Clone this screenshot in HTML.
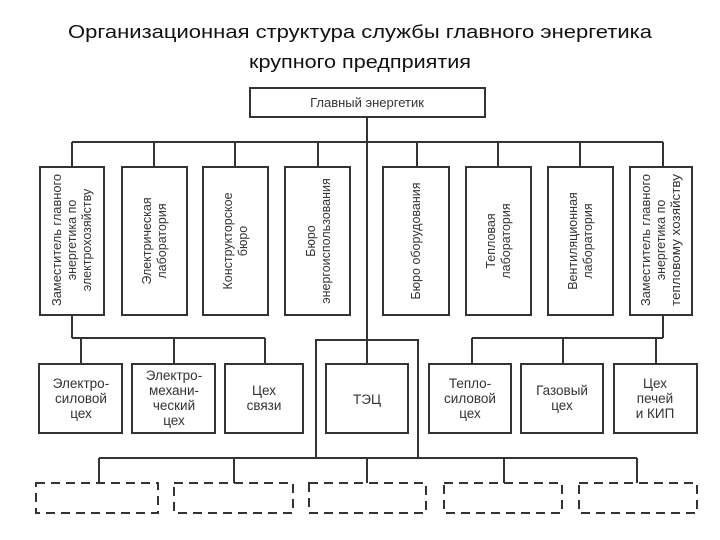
<!DOCTYPE html>
<html><head><meta charset="utf-8"><style>
html,body{margin:0;padding:0;background:#fff;}
svg{display:block;}
text{font-family:"Liberation Sans",Arial,sans-serif;fill:#333;}
</style></head><body>
<svg width="720" height="540" xmlns="http://www.w3.org/2000/svg">
<text x="360" y="38" text-anchor="middle" font-size="18" style="fill:#111" textLength="584" lengthAdjust="spacingAndGlyphs">Организационная структура службы главного энергетика</text>
<text x="360" y="68" text-anchor="middle" font-size="18" style="fill:#111" textLength="222" lengthAdjust="spacingAndGlyphs">крупного предприятия</text>
<g stroke="#333" stroke-width="2" fill="none">
<rect x="250" y="88" width="235" height="29"/>
<line x1="367" y1="117" x2="367" y2="364"/>
<line x1="72" y1="142" x2="663" y2="142"/>
<line x1="72" y1="142" x2="72" y2="167"/>
<line x1="154" y1="142" x2="154" y2="167"/>
<line x1="235" y1="142" x2="235" y2="167"/>
<line x1="318" y1="142" x2="318" y2="167"/>
<line x1="417" y1="142" x2="417" y2="167"/>
<line x1="498" y1="142" x2="498" y2="167"/>
<line x1="580" y1="142" x2="580" y2="167"/>
<line x1="663" y1="142" x2="663" y2="167"/>
<rect x="40" y="167" width="64" height="148"/>
<rect x="122" y="167" width="65" height="148"/>
<rect x="203" y="167" width="65" height="148"/>
<rect x="285" y="167" width="65" height="148"/>
<rect x="383" y="167" width="66" height="148"/>
<rect x="466" y="167" width="65" height="148"/>
<rect x="548" y="167" width="65" height="148"/>
<rect x="630" y="167" width="62" height="148"/>
<line x1="72" y1="315" x2="72" y2="338"/>
<line x1="72" y1="338" x2="265" y2="338"/>
<line x1="81" y1="338" x2="81" y2="364"/>
<line x1="174" y1="338" x2="174" y2="364"/>
<line x1="265" y1="338" x2="265" y2="364"/>
<line x1="663" y1="315" x2="663" y2="338"/>
<line x1="472" y1="338" x2="663" y2="338"/>
<line x1="472" y1="338" x2="472" y2="364"/>
<line x1="563" y1="338" x2="563" y2="364"/>
<line x1="656" y1="338" x2="656" y2="364"/>
<rect x="39" y="364" width="83" height="69"/>
<rect x="132" y="364" width="83" height="69"/>
<rect x="225" y="364" width="78" height="69"/>
<rect x="326" y="364" width="82" height="69"/>
<rect x="429" y="364" width="82" height="69"/>
<rect x="521" y="364" width="82" height="69"/>
<rect x="614" y="364" width="83" height="69"/>
<polyline points="316,458 316,340 418,340 418,458"/>
<line x1="99" y1="458" x2="637" y2="458"/>
<line x1="99" y1="458" x2="99" y2="483"/>
<line x1="234" y1="458" x2="234" y2="483"/>
<line x1="367" y1="458" x2="367" y2="483"/>
<line x1="504" y1="458" x2="504" y2="483"/>
<line x1="637" y1="458" x2="637" y2="483"/>
<g stroke-dasharray="9,6">
<rect x="36" y="483" width="122" height="30"/>
<rect x="174" y="483" width="119" height="30"/>
<rect x="309" y="483" width="117" height="30"/>
<rect x="444" y="483" width="118" height="30"/>
<rect x="579" y="483" width="118" height="30"/>
</g>
</g>
<text x="367" y="107" text-anchor="middle" font-size="13">Главный энергетик</text>
<g font-size="12.5" text-anchor="middle">
<text transform="translate(72,240) rotate(-90)"><tspan x="0" y="-11" textLength="132" lengthAdjust="spacingAndGlyphs">Заместитель главного</tspan><tspan x="0" y="4">энергетика по</tspan><tspan x="0" y="19">электрохозяйству</tspan></text>
<text transform="translate(154,241) rotate(-90)"><tspan x="0" y="-3">Электрическая</tspan><tspan x="0" y="12">лаборатория</tspan></text>
<text transform="translate(235,241) rotate(-90)"><tspan x="0" y="-3">Конструкторское</tspan><tspan x="0" y="12">бюро</tspan></text>
<text transform="translate(318,241) rotate(-90)"><tspan x="0" y="-3">Бюро</tspan><tspan x="0" y="12">энергоиспользования</tspan></text>
<text transform="translate(416,241) rotate(-90)"><tspan x="0" y="4">Бюро оборудования</tspan></text>
<text transform="translate(498,241) rotate(-90)"><tspan x="0" y="-3">Тепловая</tspan><tspan x="0" y="12">лаборатория</tspan></text>
<text transform="translate(580,241) rotate(-90)"><tspan x="0" y="-3">Вентиляционная</tspan><tspan x="0" y="12">лаборатория</tspan></text>
<text transform="translate(661,240) rotate(-90)"><tspan x="0" y="-11" textLength="132" lengthAdjust="spacingAndGlyphs">Заместитель главного</tspan><tspan x="0" y="4">энергетика по</tspan><tspan x="0" y="19" textLength="132" lengthAdjust="spacingAndGlyphs">тепловому хозяйству</tspan></text>
</g>
<g font-size="13.5" text-anchor="middle">
<text x="81" y="388">Электро-</text><text x="81" y="403">силовой</text><text x="81" y="418">цех</text>
<text x="174" y="380">Электро-</text><text x="174" y="395">механи-</text><text x="174" y="410">ческий</text><text x="174" y="425">цех</text>
<text x="264" y="395">Цех</text><text x="264" y="410">связи</text>
<text x="367" y="404">ТЭЦ</text>
<text x="470" y="388">Тепло-</text><text x="470" y="403">силовой</text><text x="470" y="418">цех</text>
<text x="562" y="395">Газовый</text><text x="562" y="410">цех</text>
<text x="655" y="388">Цех</text><text x="655" y="403">печей</text><text x="655" y="418">и КИП</text>
</g>
</svg>
</body></html>
